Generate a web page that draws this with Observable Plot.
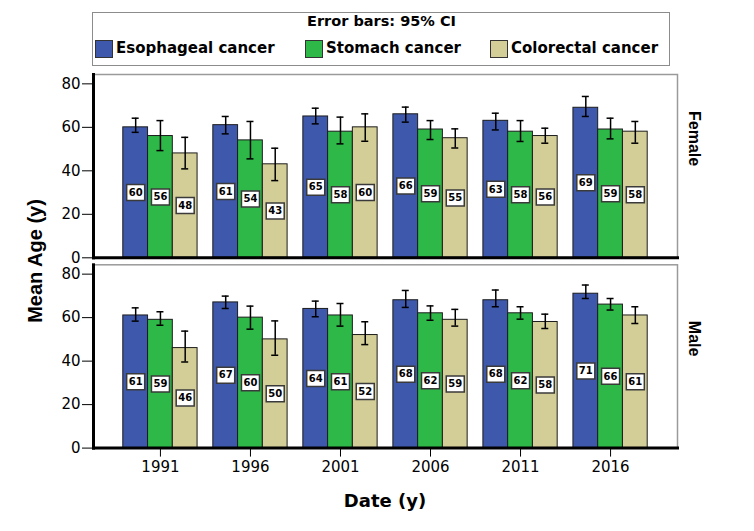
<!DOCTYPE html>
<html>
<head>
<meta charset="utf-8">
<script src="https://cdn.jsdelivr.net/npm/d3@7"></script>
<script src="https://cdn.jsdelivr.net/npm/@observablehq/plot@0.6"></script>
<style>
  body { margin: 0; background: #fff; }
  #wrap { position: relative; width: 754px; height: 531px; font-family: "DejaVu Sans", sans-serif; color: #000; }
  #box { position: absolute; left: 92px; top: 12px; width: 576px; height: 52px; border: 1.5px solid #8c8c8c; }
  .ttl { position: absolute; left: 92px; width: 579px; top: 13px; text-align: center; font-weight: bold; font-size: 14.5px; line-height: 17px; }
  .sw { position: absolute; top: 40px; width: 16px; height: 16px; border: 1px solid #333; }
  .lt { position: absolute; top: 39px; font-weight: bold; font-size: 15px; line-height: 19px; white-space: nowrap; }
  #chart { position: absolute; left: 0; top: 70px; }
</style>
</head>
<body>
<div id="wrap">
  <div id="box"></div>
  <div class="ttl">Error bars: 95% CI</div>
  <div id="legend"></div>
  <div id="chart"></div>
</div>
<script>
// ---- data ----
const years = ["1991", "1996", "2001", "2006", "2011", "2016"];
const cancers = ["Esophageal cancer", "Stomach cancer", "Colorectal cancer"];
const sexes = ["Female", "Male"];
const colors = ["#3E58AC", "#2EB848", "#D3CE97"];
const yTicks = [0, 20, 40, 60, 80];

const femaleEso = [60, 61, 65, 66, 63, 69];
const femaleSto = [56, 54, 58, 59, 58, 59];
const femaleCol = [48, 43, 60, 55, 56, 58];
const maleEso = [61, 67, 64, 68, 68, 71];
const maleSto = [59, 60, 61, 62, 62, 66];
const maleCol = [46, 50, 52, 59, 58, 61];

const femaleEsoLo = [57.7, 57.0, 61.6, 62.4, 58.8, 65.0];
const femaleEsoHi = [64.2, 65.0, 68.8, 69.3, 66.5, 74.2];
const femaleStoLo = [49.3, 45.5, 52.4, 54.4, 53.5, 54.7];
const femaleStoHi = [63.1, 62.7, 64.7, 63.1, 63.1, 64.2];
const femaleColLo = [40.9, 35.5, 53.6, 50.5, 52.7, 52.7];
const femaleColHi = [55.4, 50.4, 66.2, 59.3, 59.6, 62.7];
const maleEsoLo = [58.4, 64.2, 60.4, 64.7, 65.0, 68.8];
const maleEsoHi = [64.5, 69.9, 67.6, 72.5, 72.7, 75.0];
const maleStoLo = [56.5, 54.7, 56.1, 58.8, 59.3, 63.5];
const maleStoHi = [62.7, 65.3, 66.5, 65.4, 65.0, 68.8];
const maleColLo = [39.6, 42.7, 47.6, 56.1, 55.0, 57.3];
const maleColHi = [53.8, 58.5, 58.1, 63.8, 61.6, 65.0];

const series = [
  ["Female", 0, femaleEso, femaleEsoLo, femaleEsoHi],
  ["Female", 1, femaleSto, femaleStoLo, femaleStoHi],
  ["Female", 2, femaleCol, femaleColLo, femaleColHi],
  ["Male", 0, maleEso, maleEsoLo, maleEsoHi],
  ["Male", 1, maleSto, maleStoLo, maleStoHi],
  ["Male", 2, maleCol, maleColLo, maleColHi]
];
const rows = [];
for (const [sex, ci, means, lo, hi] of series) {
  years.forEach((year, j) => rows.push({sex, ci, cancer: cancers[ci], year, mean: means[j], lo: lo[j], hi: hi[j]}));
}

// ---- legend (HTML, above the svg) ----
const legend = document.getElementById("legend");
const swLeft = [95, 305, 490];
cancers.forEach((c, i) => {
  const s = document.createElement("div");
  s.className = "sw"; s.style.left = swLeft[i] + "px"; s.style.background = colors[i];
  legend.appendChild(s);
  const t = document.createElement("div");
  t.className = "lt"; t.style.left = (swLeft[i] + 21) + "px"; t.textContent = c;
  legend.appendChild(t);
});

// ---- layout ----
const W = 754, H = 461, ML = 93, MR = 77, MT = 4, MB = 83.4;
const padIn = 0.175, padOut = 0.331;
const bw = d3.scaleBand().domain(years).range([ML, W - MR]).paddingInner(padIn).paddingOuter(padOut).bandwidth();
const sub = bw / 3;
const capW = 7;

const boxSymbol = {draw(ctx) { ctx.rect(-9, -8, 18, 16); }};

const marks = [];
cancers.forEach((c, i) => {
  const data = rows.filter(d => d.ci === i);
  marks.push(Plot.barY(data, {x: "year", y: "mean", fy: "sex", fill: colors[i], stroke: "#1c1c1c", strokeWidth: 1,
    insetLeft: i * sub, insetRight: (2 - i) * sub}));
});
marks.push(Plot.frame({stroke: "#9a9a9a", strokeWidth: 1.5}));
marks.push(Plot.frame({anchor: "left", stroke: "#000", strokeWidth: 3}));
marks.push(Plot.frame({anchor: "bottom", stroke: "#000", strokeWidth: 3}));
cancers.forEach((c, i) => {
  const data = rows.filter(d => d.ci === i);
  const capInL = i * sub + (sub - capW) / 2, capInR = (2 - i) * sub + (sub - capW) / 2;
  marks.push(Plot.ruleX(data, {x: "year", y1: "lo", y2: "hi", fy: "sex", dx: (i - 1) * sub, stroke: "#000", strokeWidth: 1.5}));
  marks.push(Plot.tickY(data, {x: "year", y: "lo", fy: "sex", insetLeft: capInL, insetRight: capInR, stroke: "#000", strokeWidth: 1.5}));
  marks.push(Plot.tickY(data, {x: "year", y: "hi", fy: "sex", insetLeft: capInL, insetRight: capInR, stroke: "#000", strokeWidth: 1.5}));
  marks.push(Plot.dot(data, {x: "year", y: d => d.mean / 2, fy: "sex", dx: (i - 1) * sub, symbol: boxSymbol,
    fill: "#fff", stroke: "#3a3a3a", strokeWidth: 1.5}));
  marks.push(Plot.text(data, {x: "year", y: d => d.mean / 2, fy: "sex", dx: (i - 1) * sub, text: d => String(d.mean),
    fontFamily: "DejaVu Sans", fontWeight: "bold", fontSize: 10, fill: "#000"}));
});
marks.push(Plot.text(sexes, {fy: d => d, text: d => d, frameAnchor: "right", dx: 17, rotate: 90,
  fontFamily: "Liberation Sans", fontWeight: "bold", fontSize: 16, fill: "#000"}));

const chart = Plot.plot({
  width: W, height: H,
  marginLeft: ML, marginRight: MR, marginTop: MT, marginBottom: MB,
  style: {fontFamily: "DejaVu Sans", fontSize: "15px", color: "#000", background: "#fff"},
  x: {domain: years, paddingInner: padIn, paddingOuter: padOut, round: false, label: null, tickSize: 9, tickPadding: 4},
  y: {domain: [0, 84.3], ticks: yTicks, tickSize: 11, tickPadding: 2, label: null},
  fy: {domain: sexes, paddingInner: 0.0368, paddingOuter: 0, round: false, axis: null, label: null},
  marks
});
document.getElementById("chart").appendChild(chart);

// axis titles
const svg = d3.select(chart);
svg.append("text").attr("x", (ML + W - MR) / 2).attr("y", 437).attr("text-anchor", "middle")
  .attr("font-family", "DejaVu Sans").attr("font-weight", "bold").attr("font-size", 18).attr("fill", "#000")
  .text("Date (y)");
svg.append("text").attr("transform", "translate(42,191) rotate(-90)").attr("text-anchor", "middle")
  .attr("font-family", "Liberation Sans").attr("font-weight", "bold").attr("font-size", 20).attr("fill", "#000")
  .text("Mean Age (y)");
</script>
</body>
</html>
